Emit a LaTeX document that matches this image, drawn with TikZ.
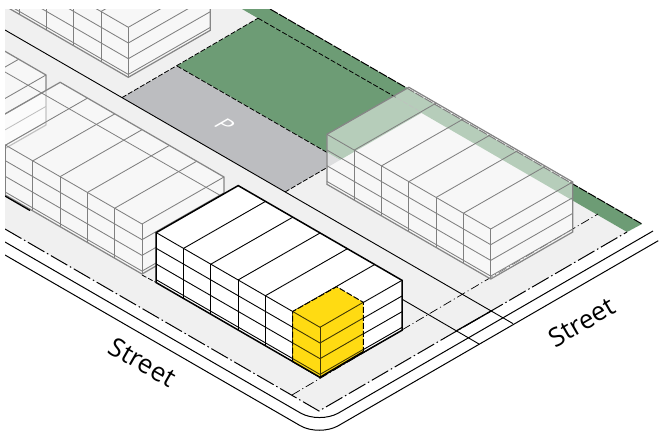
\documentclass[tikz,border=0pt]{standalone}
\usepackage{fontspec}
\setmainfont{Open Sans}
\usepackage{tikz}
\usetikzlibrary{arrows.meta, positioning}

\definecolor{groundgray}{HTML}{F0F0F0}
\definecolor{parkgray}{HTML}{BCBDC0}
\definecolor{parkgreen}{HTML}{6D9C75}
\definecolor{blockyellow}{HTML}{FFDB12}

\begin{document}
\begin{tikzpicture}[
  x=1pt, y=-1pt,
  blockfill/.style={fill=white, fill opacity=0.5},
  blockedge/.style={draw=gray!95, line width=1.25pt},
  blockline/.style={draw=gray, line width=0.85pt},
  ghost/.style={},
  solidblock/.style={
    blockfill/.style={fill=white},
    blockedge/.style={draw=black, line width=1.5pt},
    blockline/.style={draw=black, line width=0.9pt}},
  plotdash/.style={black, line width=0.8pt, dash pattern=on 5pt off 2pt},
  mainplot/.style={black, line width=1pt, dash pattern=on 19pt off 3pt on 1.5pt off 3pt},
  innerplot/.style={black, line width=0.7pt, dash pattern=on 9pt off 3pt on 1pt off 3pt},
  street/.style={font=\fontsize{26}{26}\selectfont, text=black},
  block/.pic={
    \path[blockfill] (-163.8,-94.7) -- (-81.8,-141.7) -- (82,-47) -- (82,3)
      -- (0,50) -- (-163.8,-44.7) -- cycle;
    % roof dividers and the walls
    \foreach \k in {1,...,5} {
      \draw[blockline] (-27.3*\k,-15.78*\k) -- ++(82,-47);
      \draw[blockline] (-27.3*\k,-15.78*\k) -- (-27.3*\k,50-15.78*\k);
    }
    \foreach \h in {15.7,31.4,47.1} {
      \draw[blockline] (-163.8,-94.7+\h) -- (0,\h) -- (82,-47+\h);
    }
    \draw[blockline] (0,0) -- (0,50);
    \draw[blockedge] (-163.8,-94.7) -- (-81.8,-141.7) -- (82,-47) -- (82,3)
      -- (0,50) -- (-163.8,-44.7) -- cycle;
    \draw[blockline] (-163.8,-94.7) -- (0,0) -- (82,-47);
  }
]
  \useasboundingbox (0,0) rectangle (659,434);
  \begin{scope}
    \clip (5,9) rectangle (659,434);

    % ground and parking plots
    \fill[groundgray] (5,9) -- (243,9) -- (627,232) -- (319,411) -- (5,229) -- cycle;
    \fill[parkgreen] (242,9) -- (270,9) -- (642,224) -- (627,232) -- cycle;
    \fill[parkgreen] (258,18.2) -- (177,66) -- (340,160) -- (422,112.6) -- cycle;
    \fill[parkgray] (122,97.6) -- (177,66) -- (340,160) -- (285,192) -- cycle;
    \draw[plotdash] (122,97.6) -- (258,18.2);
    \draw[plotdash] (177,66) -- (328,153);
    \draw[plotdash] (285,192) -- (328,167);
    \draw[plotdash] (258,18.2) -- (397,98);
    \draw[black, line width=1pt, dash pattern=on 9pt off 1.5pt] (270,9) -- (642,224);
    \draw[gray, line width=0.6pt, dash pattern=on 5pt off 2pt] (397,98) -- (422,112.6);

    % streets
    \draw[mainplot] (5,229) -- (319,411) -- (627,232);
    \draw[innerplot] (292,395) -- (598,214);
    \draw[black, line width=0.9pt] (5,30) -- (513,323.6);
    \draw[black, line width=0.9pt] (401.7,299) -- (479,344);
    \draw[black, line width=1.3pt] (456.7,330.7) -- (491.7,310.7);
    \draw[black, line width=1pt, rounded corners=22pt] (5,242) -- (319.5,424) -- (653,231);
    \draw[black, line width=1pt, rounded corners=22pt] (5,255) -- (319.3,436.7) -- (658.3,240.7);

    % neighbouring blocks
    \pic[ghost] at (-36,122) {block};
    \pic[ghost] at (128.3,27.3) {block};
    \pic[ghost] at (142,224) {block};
    \draw[gray, line width=0.8pt] (5,72) -- (223,197);
    \draw[black, line width=1.3pt] (5,196) -- (30,210.5);
    \draw[plotdash] (142,275) -- (155.7,282.3);
    \pic[ghost] at (490.7,229) {block};

    % middle block
    \pic[solidblock] at (320,327.3) {block};
    \fill[blockyellow] (292.7,311.5) -- (336.7,286.7) -- (363.3,302.3) -- (363.3,351.7)
      -- (320,377.3) -- (292.7,361.5) -- cycle;
    \foreach \h in {0,15.7,31.4,47.1} {
      \draw[black!75!blockyellow, line width=0.9pt]
        (292.7,311.5+\h) -- (320,327.3+\h) -- (363.3,302.3+\h);
    }
    \draw[black!75!blockyellow, line width=1pt] (320,327.3) -- (320,377.3);
    \draw[black, line width=1.5pt] (292.7,361.5) -- (320,377.3) -- (363.3,351.7);
    \draw[black, line width=1pt, dash pattern=on 6pt off 2pt]
      (292.7,361.5) -- (292.7,311.5) -- (336.7,286.7) -- (363.3,302.3) -- (363.3,351.7);
  \end{scope}

  \node[white, font=\fontsize{22}{22}\selectfont, inner sep=0pt,
        cm={0.866,-0.5,0.866,0.5,(0,0)}, transform shape] (parklabel) at (225,125) {P};
  \node[street, rotate=-30] (streetleft) at (142.5,362) {Street};
  \node[street, rotate=30] (streetright) at (581.7,322) {Street};
\end{tikzpicture}
\end{document}
